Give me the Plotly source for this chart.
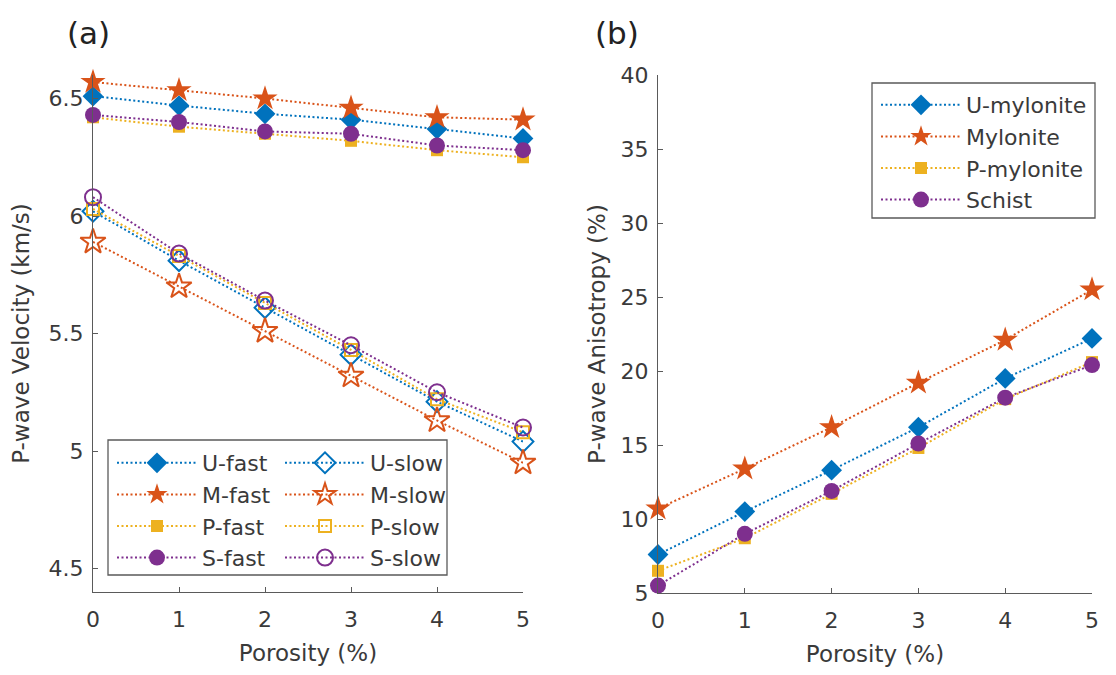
import plotly.graph_objects as go

# ---------------- data ----------------
porosity = [0, 1, 2, 3, 4, 5]

# (a) P-wave velocity (km/s)
u_fast = [6.51, 6.47, 6.435, 6.41, 6.37, 6.33]
m_fast = [6.57, 6.535, 6.50, 6.46, 6.42, 6.41]
p_fast = [6.42, 6.38, 6.35, 6.32, 6.28, 6.25]
s_fast = [6.43, 6.40, 6.36, 6.35, 6.30, 6.28]
u_slow = [6.02, 5.81, 5.61, 5.41, 5.21, 5.04]
m_slow = [5.89, 5.70, 5.51, 5.32, 5.13, 4.95]
p_slow = [6.03, 5.83, 5.63, 5.43, 5.22, 5.08]
s_slow = [6.08, 5.84, 5.64, 5.45, 5.25, 5.10]

# (b) P-wave anisotropy (%)
u_aniso = [7.6, 10.5, 13.3, 16.2, 19.5, 22.2]
m_aniso = [10.7, 13.4, 16.2, 19.2, 22.1, 25.5]
p_aniso = [6.5, 8.7, 11.7, 14.8, 18.1, 20.6]
s_aniso = [5.5, 9.0, 11.9, 15.1, 18.2, 20.4]

vel_ticks = [4.5, 5, 5.5, 6, 6.5]
vel_ticktext = ["4.5", "5", "5.5", "6", "6.5"]
ani_ticks = [5, 10, 15, 20, 25, 30, 35, 40]

# ---------------- styling ----------------
BLUE, ORANGE, YELLOW, PURPLE = "#0072BD", "#D95319", "#EDB120", "#7E2F8E"
FONT = "DejaVu Sans"
TXT = "#3a3a3a"
AX = "#5a5a5a"
DASH = "2px,2.5px"

sym = {"U": ("diamond", 16), "M": ("star", 19), "P": ("square", 12), "S": ("circle", 16)}
col = {"U": BLUE, "M": ORANGE, "P": YELLOW, "S": PURPLE}

fig = go.Figure()


def add(y, key, name, filled, xa, ya, legend):
    s, size = sym[key]
    c = col[key]
    fig.add_trace(go.Scatter(
        x=porosity, y=y, name=name, mode="lines+markers",
        xaxis=xa, yaxis=ya, legend=legend, cliponaxis=False,
        line=dict(color=c, width=2, dash=DASH),
        marker=dict(symbol=s if filled else s + "-open", size=size, color=c,
                    line=dict(color=c, width=0 if filled else 2)),
    ))


add(u_fast, "U", "U-fast", True, "x", "y", "legend")
add(m_fast, "M", "M-fast", True, "x", "y", "legend")
add(p_fast, "P", "P-fast", True, "x", "y", "legend")
add(s_fast, "S", "S-fast", True, "x", "y", "legend")
add(u_slow, "U", "U-slow", False, "x", "y", "legend2")
add(m_slow, "M", "M-slow", False, "x", "y", "legend2")
add(p_slow, "P", "P-slow", False, "x", "y", "legend2")
add(s_slow, "S", "S-slow", False, "x", "y", "legend2")

add(u_aniso, "U", "U-mylonite", True, "x2", "y2", "legend3")
add(m_aniso, "M", "Mylonite", True, "x2", "y2", "legend3")
add(p_aniso, "P", "P-mylonite", True, "x2", "y2", "legend3")
add(s_aniso, "S", "Schist", True, "x2", "y2", "legend3")

W, H = 1116, 675
ML, MR, MT, MB = 50, 10, 60, 70
PW, PH = W - ML - MR, H - MT - MB
PB = H - MB
OFF = 8  # page body margin


def px(x):
    return (x - OFF - ML) / PW


def py(y):
    return (PB - (y - OFF)) / PH


axis_common = dict(
    showgrid=False, zeroline=False, showline=True, linecolor=AX, linewidth=1.3,
    ticks="inside", ticklen=5, tickwidth=1.3, tickcolor=AX, mirror=False,
    automargin=False,
    tickfont=dict(family=FONT, size=22, color=TXT),
    title_font=dict(family=FONT, size=23, color=TXT),
)

legend_common = dict(xanchor="left", yanchor="top", bgcolor="rgba(0,0,0,0)",
                     borderwidth=0, itemwidth=80, tracegroupgap=0,
                     font=dict(family=FONT, size=22, color=TXT))

fig.update_layout(
    width=W, height=H, autosize=False,
    margin=dict(l=ML, r=MR, t=MT, b=MB),
    paper_bgcolor="white", plot_bgcolor="white",
    font=dict(family=FONT, color=TXT),
    xaxis=dict(domain=[px(93), px(523)], range=[0, 5], tickvals=porosity,
               anchor="y", ticklabelstandoff=7,
               title=dict(text="Porosity (%)", standoff=14), **axis_common),
    yaxis=dict(domain=[py(592), py(75)], range=[4.4, 6.6], tickvals=vel_ticks,
               ticktext=vel_ticktext, anchor="x", ticklabelstandoff=4,
               title=dict(text="P-wave Velocity (km/s)", standoff=12), **axis_common),
    xaxis2=dict(domain=[px(658), px(1092)], range=[0, 5], tickvals=porosity,
                anchor="y2", ticklabelstandoff=7,
                title=dict(text="Porosity (%)", standoff=14), **axis_common),
    yaxis2=dict(domain=[py(593), py(75)], range=[5, 40], tickvals=ani_ticks,
                anchor="x2", ticklabelstandoff=4,
                title=dict(text="P-wave Anisotropy (%)", standoff=8), **axis_common),
    legend=dict(x=px(112), y=py(442), **legend_common),
    legend2=dict(x=px(280), y=py(442), **legend_common),
    legend3=dict(x=px(876), y=py(84), **legend_common),
    showlegend=True,
    shapes=[
        dict(type="rect", xref="paper", yref="paper", x0=px(108), x1=px(447),
             y0=py(575), y1=py(440), line=dict(color=AX, width=1.3), fillcolor="white",
             layer="below"),
        dict(type="rect", xref="paper", yref="paper", x0=px(872), x1=px(1095),
             y0=py(218), y1=py(83), line=dict(color=AX, width=1.3), fillcolor="white",
             layer="below"),
    ],
    annotations=[
        dict(text="(a)", x=px(88), y=py(33), xref="paper", yref="paper",
             xanchor="center", yanchor="middle",
             showarrow=False, font=dict(family=FONT, size=31, color="#222")),
        dict(text="(b)", x=px(617), y=py(33), xref="paper", yref="paper",
             xanchor="center", yanchor="middle",
             showarrow=False, font=dict(family=FONT, size=31, color="#222")),
    ],
)

fig.write_html("out.html")
